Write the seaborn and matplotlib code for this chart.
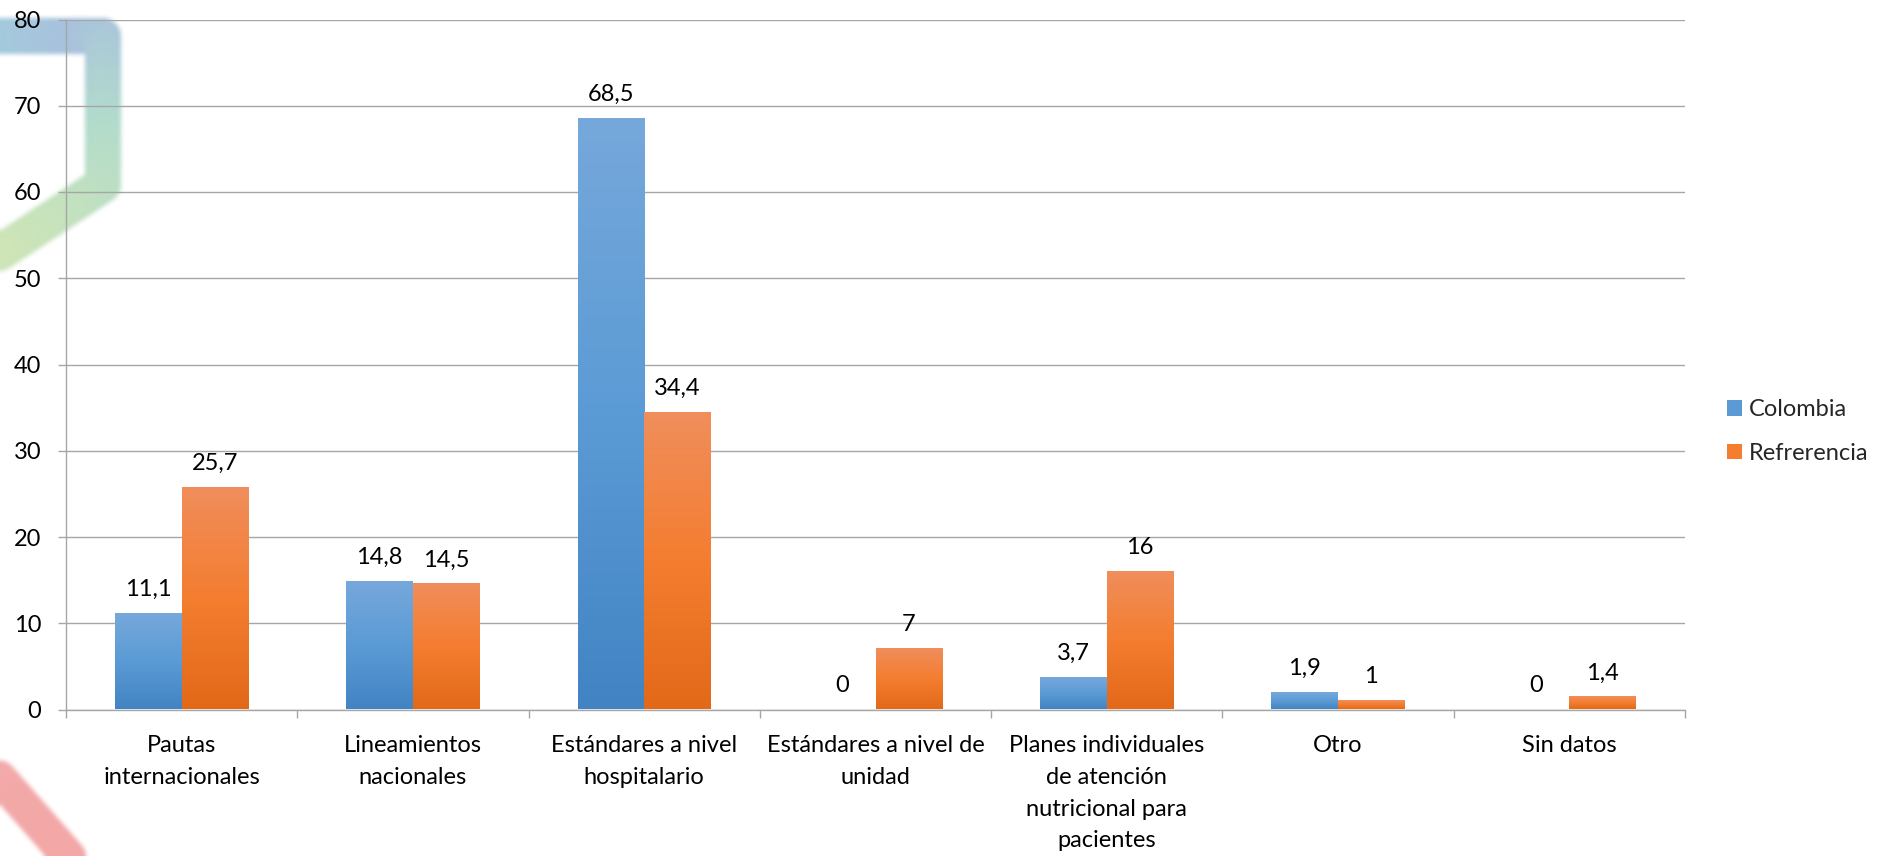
import numpy as np
import pandas as pd
import matplotlib
matplotlib.use("Agg")
import matplotlib.pyplot as plt
import seaborn as sns
from matplotlib.colors import LinearSegmentedColormap, to_rgb, to_hex
from matplotlib.collections import LineCollection
from matplotlib.patches import Patch
from matplotlib.ticker import FixedLocator
from matplotlib.backends.backend_agg import FigureCanvasAgg

# ---- data -------------------------------------------------------------
categories = [
    "Pautas internacionales",
    "Lineamientos nacionales",
    "Estándares a nivel hospitalario",
    "Estándares a nivel de unidad",
    "Planes individuales de atención nutricional para pacientes",
    "Otro",
    "Sin datos",
]
tick_labels = [
    "Pautas\ninternacionales",
    "Lineamientos\nnacionales",
    "Estándares a nivel\nhospitalario",
    "Estándares a nivel de\nunidad",
    "Planes individuales\nde atención\nnutricional para\npacientes",
    "Otro",
    "Sin datos",
]
series_names = ["Colombia", "Refrerencia"]
colombia = [11.1, 14.8, 68.5, 0, 3.7, 1.9, 0]
referencia = [25.7, 14.5, 34.4, 7, 16, 1, 1.4]
y_ticks = [0, 10, 20, 30, 40, 50, 60, 70, 80]

# ---- style ------------------------------------------------------------
sns.set_style("white")
plt.rcParams["font.family"] = ["Lato", "DejaVu Sans"]
FS_NUM = 17
FS_TXT = 17
GRID = "#A6A6A6"

blue_stops = ["#76A8DB", "#5B9BD5", "#4283C4"]     # top -> bottom
orange_stops = ["#F08E5C", "#F47D30", "#E26918"]
mid_colors = [blue_stops[1], orange_stops[1]]

W, H = 1878, 856


# ---- decorative background ribbons (rendered off-screen, then softened) --
def ribbon(target, points, stops, width_px):
    pts = np.array(points, dtype=float)
    seg_len = np.hypot(*np.diff(pts, axis=0).T)
    cum = np.concatenate([[0], np.cumsum(seg_len)])
    s = np.linspace(0, cum[-1], 400)
    xs = np.interp(s, cum, pts[:, 0])
    ys = np.interp(s, cum, pts[:, 1])
    fx, fy = xs / W, 1 - ys / H
    segs = np.stack([np.column_stack([fx[:-1], fy[:-1]]),
                     np.column_stack([fx[1:], fy[1:]])], axis=1)
    t = (s[:-1] + s[1:]) / 2 / cum[-1]
    pos = np.linspace(0, 1, len(stops))
    rgb = np.array([to_rgb(c) for c in stops])
    cols = np.column_stack([np.interp(t, pos, rgb[:, k]) for k in range(3)])
    lc = LineCollection(segs, colors=cols, linewidths=width_px * 72 / 100,
                        capstyle="round", joinstyle="round",
                        transform=target.transFigure)
    target.add_artist(lc)


def box_blur(a, r, axis):
    pad = [(0, 0)] * a.ndim
    pad[axis] = (r + 1, r)
    p = np.pad(a, pad, mode="edge")
    c = np.cumsum(p, axis=axis)
    n = a.shape[axis]
    hi = np.take(c, np.arange(2 * r + 1, 2 * r + 1 + n), axis=axis)
    lo = np.take(c, np.arange(0, n), axis=axis)
    return (hi - lo) / (2 * r + 1)


off = plt.figure(figsize=(W / 100, H / 100), dpi=100)
off.patch.set_alpha(0)
ribbon(off, [(-40, 36), (102.5, 36), (102.5, 185), (-60, 292)],
       ["#A0D0DB", "#A8C2DD", "#B3DCCC", "#C6E3BC", "#D8E7B2"], 36)
ribbon(off, [(-90, 676), (120, 915)], ["#F5ADAD", "#F3A6A6"], 34)
canvas = FigureCanvasAgg(off)
canvas.draw()
layer = np.asarray(canvas.buffer_rgba()).astype(float) / 255.0
plt.close(off)
premul = layer.copy()
premul[..., :3] *= premul[..., 3:4]
for _ in range(2):
    premul = box_blur(box_blur(premul, 2, 0), 2, 1)
alpha = np.clip(premul[..., 3:4], 1e-6, 1)
soft = np.concatenate([np.clip(premul[..., :3] / alpha, 0, 1), premul[..., 3:4]], axis=2)

fig = plt.figure(figsize=(W / 100, H / 100), dpi=100)
fig.figimage(soft, xo=0, yo=0, origin="upper", zorder=-2)

ax = fig.add_axes([66 / W, 1 - 709.5 / H, (1685 - 66) / W, (709.5 - 19.5) / H])
ax.set_facecolor("none")

# ---- bars ---------------------------------------------------------------
df = pd.DataFrame({
    "categoria": categories * 2,
    "serie": [series_names[0]] * len(categories) + [series_names[1]] * len(categories),
    "valor": colombia + referencia,
})
sns.barplot(data=df, x="categoria", y="valor", hue="serie", order=categories,
            hue_order=series_names, palette=mid_colors, width=0.576,
            legend=False, ax=ax, zorder=2)

cmaps = {
    mid_colors[0]: LinearSegmentedColormap.from_list("blue_grad", blue_stops),
    mid_colors[1]: LinearSegmentedColormap.from_list("orange_grad", orange_stops),
}
grad = np.linspace(0, 1, 256).reshape(-1, 1)
for p in ax.patches:
    fc = to_hex(p.get_facecolor())
    h = p.get_height()
    x0, w = p.get_x(), p.get_width()
    key = min(cmaps, key=lambda c: np.sum((np.array(to_rgb(c)) - np.array(to_rgb(fc))) ** 2))
    if h > 0:
        ax.imshow(grad, extent=[x0, x0 + w, 0, h], cmap=cmaps[key], aspect="auto",
                  interpolation="bilinear", zorder=2.1)
    p.set_facecolor("none")
    p.set_edgecolor("none")
    ax.annotate(f"{h:g}".replace(".", ","), (x0 + w / 2, h), xytext=(0, 12.8),
                textcoords="offset points", ha="center", va="baseline",
                fontsize=FS_NUM, color="black", zorder=3)

# ---- axes -------------------------------------------------------------
ax.set_xlim(-0.5, len(categories) - 0.5)
ax.set_ylim(y_ticks[0], y_ticks[-1])
ax.set_xlabel("")
ax.set_ylabel("")
ax.set_yticks(y_ticks)
ax.set_yticklabels([str(v) for v in y_ticks])
ax.set_xticks(range(len(categories)))
ax.set_xticklabels(tick_labels, linespacing=1.63)
ax.xaxis.set_minor_locator(FixedLocator(np.arange(-0.5, len(categories), 1)))

ax.yaxis.grid(True, color=GRID, linewidth=1)
ax.set_axisbelow(True)
for side in ["top", "right"]:
    ax.spines[side].set_visible(False)
for side in ["left", "bottom"]:
    ax.spines[side].set_color(GRID)
    ax.spines[side].set_linewidth(1)

ax.tick_params(axis="y", length=5.8, width=1, color=GRID, pad=12,
               labelsize=FS_NUM, labelcolor="black", left=True)
ax.tick_params(axis="x", which="major", length=0, pad=18.5, labelsize=FS_TXT,
               labelcolor="black")
ax.tick_params(axis="x", which="minor", length=5.8, width=1, color=GRID,
               bottom=True)

# ---- legend -----------------------------------------------------------
handles = [Patch(facecolor=c, edgecolor="none") for c in mid_colors]
fig.legend(handles, series_names, loc="center left",
           bbox_to_anchor=(1727 / W, 1 - 431.5 / H), frameon=False,
           fontsize=FS_TXT, handlelength=0.64, handleheight=0.64,
           handletextpad=0.3, labelspacing=0.95, borderpad=0, borderaxespad=0)

fig.savefig("out.png", dpi=100)
